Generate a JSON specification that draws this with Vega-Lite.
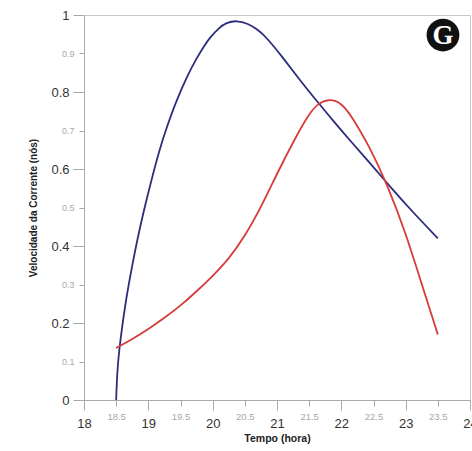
{
  "$schema": "https://vega.github.io/schema/vega-lite/v6.json",
  "width": 386,
  "height": 385,
  "autosize": "none",
  "padding": {"left": 84, "top": 15, "right": 2, "bottom": 51},
  "background": "white",
  "config": {
    "view": {"stroke": "#c8c8c8", "strokeWidth": 1},
    "font": "Liberation Sans"
  },
  "datasets": {
    "curves": [
      {"t": 18.5, "v": 0.0, "s": "A"},
      {"t": 18.51, "v": 0.05, "s": "A"},
      {"t": 18.53, "v": 0.1, "s": "A"},
      {"t": 18.56, "v": 0.15, "s": "A"},
      {"t": 18.65, "v": 0.26, "s": "A"},
      {"t": 18.75, "v": 0.35, "s": "A"},
      {"t": 18.85, "v": 0.435, "s": "A"},
      {"t": 19.0, "v": 0.54, "s": "A"},
      {"t": 19.17, "v": 0.65, "s": "A"},
      {"t": 19.3, "v": 0.715, "s": "A"},
      {"t": 19.43, "v": 0.775, "s": "A"},
      {"t": 19.6, "v": 0.84, "s": "A"},
      {"t": 19.74, "v": 0.885, "s": "A"},
      {"t": 19.87, "v": 0.92, "s": "A"},
      {"t": 19.95, "v": 0.94, "s": "A"},
      {"t": 20.1, "v": 0.967, "s": "A"},
      {"t": 20.21, "v": 0.98, "s": "A"},
      {"t": 20.37, "v": 0.986, "s": "A"},
      {"t": 20.55, "v": 0.978, "s": "A"},
      {"t": 20.7, "v": 0.962, "s": "A"},
      {"t": 20.83, "v": 0.943, "s": "A"},
      {"t": 21.08, "v": 0.892, "s": "A"},
      {"t": 21.35, "v": 0.832, "s": "A"},
      {"t": 21.66, "v": 0.768, "s": "A"},
      {"t": 21.9, "v": 0.72, "s": "A"},
      {"t": 22.13, "v": 0.675, "s": "A"},
      {"t": 22.5, "v": 0.605, "s": "A"},
      {"t": 22.78, "v": 0.55, "s": "A"},
      {"t": 23.1, "v": 0.49, "s": "A"},
      {"t": 23.5, "v": 0.42, "s": "A"},
      {"t": 18.5, "v": 0.135, "s": "B"},
      {"t": 18.75, "v": 0.158, "s": "B"},
      {"t": 19.0, "v": 0.184, "s": "B"},
      {"t": 19.25, "v": 0.213, "s": "B"},
      {"t": 19.5, "v": 0.245, "s": "B"},
      {"t": 19.75, "v": 0.282, "s": "B"},
      {"t": 20.0, "v": 0.322, "s": "B"},
      {"t": 20.25, "v": 0.366, "s": "B"},
      {"t": 20.5, "v": 0.425, "s": "B"},
      {"t": 20.75, "v": 0.5, "s": "B"},
      {"t": 21.0, "v": 0.588, "s": "B"},
      {"t": 21.25, "v": 0.67, "s": "B"},
      {"t": 21.5, "v": 0.745, "s": "B"},
      {"t": 21.65, "v": 0.772, "s": "B"},
      {"t": 21.82, "v": 0.782, "s": "B"},
      {"t": 22.0, "v": 0.772, "s": "B"},
      {"t": 22.17, "v": 0.735, "s": "B"},
      {"t": 22.44, "v": 0.657, "s": "B"},
      {"t": 22.7, "v": 0.565, "s": "B"},
      {"t": 23.0, "v": 0.435, "s": "B"},
      {"t": 23.27, "v": 0.29, "s": "B"},
      {"t": 23.5, "v": 0.17, "s": "B"}
    ],
    "badge": [{"t": 23.58, "v": 0.948, "label": "G"}]
  },
  "encoding": {
    "x": {
      "field": "t", "type": "quantitative",
      "scale": {"domain": [18, 24], "nice": false, "zero": false},
      "axis": {
        "title": "Tempo (hora)",
        "titleFontSize": 10.5, "titleFontWeight": "bold", "titleColor": "#222",
        "titlePadding": 3,
        "values": [18, 18.5, 19, 19.5, 20, 20.5, 21, 21.5, 22, 22.5, 23, 23.5, 24],
        "labelExpr": "toString(datum.value)",
        "labelFontSize": {"condition": {"test": "datum.value % 1 !== 0", "value": 9.5}, "value": 13},
        "labelColor": {"condition": {"test": "datum.value % 1 !== 0", "value": "#a8a8a8"}, "value": "#333333"},
        "labelPadding": {"condition": {"test": "datum.value % 1 !== 0", "value": 5}, "value": 7},
        "tickSize": {"condition": {"test": "datum.value % 1 !== 0", "value": 6}, "value": 10},
        "tickColor": "#aaaaaa",
        "domainColor": "#aaaaaa",
        "grid": false,
        "labelFlush": false,
        "labelOverlap": false
      }
    },
    "y": {
      "field": "v", "type": "quantitative",
      "scale": {"domain": [0, 1], "nice": false},
      "axis": {
        "title": "Velocidade da Corrente (nós)",
        "titleFontSize": 10, "titleFontWeight": "bold", "titleColor": "#222",
        "titlePadding": 12,
        "values": [0, 0.1, 0.2, 0.3, 0.4, 0.5, 0.6, 0.7, 0.8, 0.9, 1],
        "labelExpr": "toString(round(datum.value*10)/10)",
        "labelFontSize": {"condition": {"test": "round(datum.value*10) % 2 == 1", "value": 9}, "value": 13},
        "labelColor": {"condition": {"test": "round(datum.value*10) % 2 == 1", "value": "#a8a8a8"}, "value": "#333333"},
        "tickSize": {"condition": {"test": "round(datum.value*10) % 2 == 1", "value": 5}, "value": 11},
        "labelPadding": {"condition": {"test": "round(datum.value*10) % 2 == 1", "value": 5}, "value": 4},
        "tickColor": "#aaaaaa",
        "domainColor": "#aaaaaa",
        "grid": false,
        "labelFlush": false,
        "labelOverlap": false
      }
    }
  },
  "layer": [
    {
      "data": {"name": "curves"},
      "mark": {"type": "line", "interpolate": "basis", "strokeWidth": 1.8},
      "encoding": {
        "color": {
          "field": "s", "type": "nominal",
          "scale": {"domain": ["A", "B"], "range": ["#2c2d7c", "#d83a3a"]},
          "legend": null
        }
      }
    },
    {
      "data": {"name": "badge"},
      "mark": {"type": "point", "shape": "circle", "filled": true, "color": "#111111", "opacity": 1, "size": 1075},
      "encoding": {}
    },
    {
      "data": {"name": "badge"},
      "mark": {"type": "text", "font": "Liberation Serif", "fontWeight": "bold", "fontSize": 27, "color": "white", "align": "center", "baseline": "middle", "dy": 1},
      "encoding": {
        "text": {"field": "label"}
      }
    }
  ]
}
